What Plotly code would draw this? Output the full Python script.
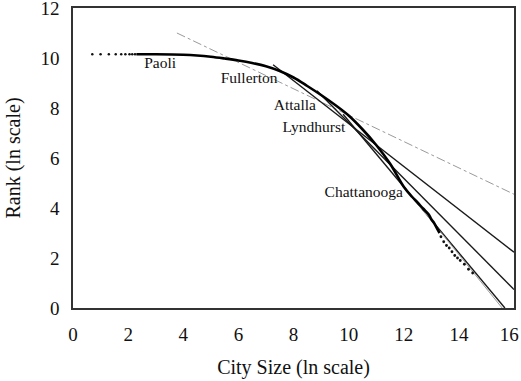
import plotly.graph_objects as go

# Rank-size curve (ln city size vs ln rank)
dot_x = [0.7, 1.0, 1.3, 1.55, 1.75, 1.9, 2.05, 2.15, 2.25]
dot_y = [10.15, 10.15, 10.15, 10.15, 10.15, 10.15, 10.15, 10.15, 10.15]

curve_x = [2.3, 3.0, 4.0, 4.5, 5.0, 5.5, 6.0, 6.5, 7.0, 7.5, 8.0, 8.5, 9.0, 9.5,
           10.0, 10.5, 11.0, 11.5, 12.0, 12.3, 12.5, 12.7, 12.9, 13.0, 13.1, 13.2, 13.3]
curve_y = [10.15, 10.15, 10.13, 10.1, 10.05, 9.98, 9.9, 9.8, 9.67, 9.48, 9.22, 8.88, 8.52, 8.13,
           7.7, 7.15, 6.52, 5.78, 4.85, 4.45, 4.22, 3.98, 3.75, 3.55, 3.4, 3.2, 3.0]

tail_x = [13.35, 13.45, 13.55, 13.65, 13.75, 13.85, 13.95, 14.05, 14.2, 14.35, 14.5]
tail_y = [2.85, 2.65, 2.5, 2.4, 2.25, 2.1, 2.0, 1.9, 1.75, 1.55, 1.4]

# Fitted lines: name, start (x, y), end (x, y)
line_names = ["Paoli", "Fullerton", "Attalla", "Lyndhurst", "Chattanooga"]
line_x0 = [3.77, 7.26, 8.85, 9.8, 12.3]
line_y0 = [11.0, 9.73, 8.69, 7.75, 4.45]
line_x1 = [16.0, 16.0, 16.0, 15.67, 15.57]
line_y1 = [4.55, 2.23, 0.74, 0.0, 0.0]

# Labels
label_text = ["Paoli", "Fullerton", "Attalla", "Lyndhurst", "Chattanooga"]
label_x = [3.16, 6.39, 8.05, 8.74, 10.55]
label_y = [9.77, 9.17, 8.09, 7.18, 4.58]

x_ticks = [0, 2, 4, 6, 8, 10, 12, 14, 16]
x_tick_text = ["0", "2", "4", "6", "8", "10", "12", "14", "16\u00a0\u00a0"]
y_ticks = [0, 2, 4, 6, 8, 10, 12]

serif = "Liberation Serif, Times New Roman, serif"

fig = go.Figure()

for i, nm in enumerate(line_names):
    gray = nm in ("Paoli", "Chattanooga")
    fig.add_trace(go.Scatter(
        x=[line_x0[i], line_x1[i]], y=[line_y0[i], line_y1[i]],
        mode="lines",
        line=dict(color="#9a9a9a" if gray else "#1a1a1a",
                  width=1.0 if gray else 1.4,
                  dash="dashdot" if nm == "Paoli" else "solid"),
        showlegend=False, hoverinfo="skip"))

fig.add_trace(go.Scatter(x=dot_x, y=dot_y, mode="markers",
                         marker=dict(color="#111", size=2.5), showlegend=False))
fig.add_trace(go.Scatter(x=curve_x, y=curve_y, mode="lines",
                         line=dict(color="#000", width=2.6, shape="spline"), showlegend=False))
fig.add_trace(go.Scatter(x=tail_x, y=tail_y, mode="markers",
                         marker=dict(color="#111", size=2.8), showlegend=False))

fig.add_trace(go.Scatter(x=label_x, y=label_y, mode="text", text=label_text,
                         textfont=dict(family=serif, size=15.5, color="#111"),
                         showlegend=False))

axis_common = dict(showgrid=False, zeroline=False, showline=True, linecolor="#333",
                   linewidth=1.5, mirror=True, ticks="outside", ticklen=8,
                   tickcolor="rgba(0,0,0,0)", automargin=False,
                   ticklabeloverflow="allow",
                   tickfont=dict(family=serif, size=19, color="#111"))

fig.update_xaxes(range=[0, 16], tickvals=x_ticks, ticktext=x_tick_text, **axis_common,
                 title=dict(text="City Size (ln scale)", standoff=16,
                            font=dict(family=serif, size=20, color="#111")))
fig.update_yaxes(range=[0, 12], tickvals=y_ticks, **axis_common,
                 title=dict(text="Rank (ln scale)", standoff=14,
                            font=dict(family=serif, size=20, color="#111")))

fig.update_layout(width=521, height=381, margin=dict(l=73, r=7, t=8, b=73),
                  plot_bgcolor="white", paper_bgcolor="white")

fig.write_html("out.html", config={"displayModeBar": False},
               post_script="document.body.style.margin='0';")
